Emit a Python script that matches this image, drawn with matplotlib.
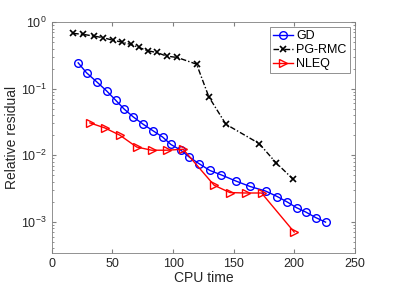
import matplotlib
matplotlib.use("Agg")
import matplotlib.pyplot as plt

plt.rcParams['font.family'] = ['Liberation Sans', 'DejaVu Sans']

# GD
gd_t = [21.7, 28.6, 36.9, 45.1, 52.6, 59.7, 67.1, 75.3, 83.6, 91.3, 98.2, 106.4, 113.3,
        121.3, 130.4, 139.4, 151.8, 163.4, 176.3, 185.9, 194.1, 201.9, 209.6, 217.6, 225.8]
gd_r = [0.244, 0.173, 0.127, 0.0927, 0.0671, 0.0492, 0.0377, 0.0292, 0.0232, 0.0188,
        0.0145, 0.0119, 0.0094, 0.0075, 0.0059, 0.0051, 0.0041, 0.0034, 0.0029, 0.0024,
        0.00199, 0.00163, 0.00140, 0.00116, 0.00099]

# PG-RMC
pg_t = [17.6, 25.8, 34.9, 42.3, 50.1, 57.5, 64.9, 71.8, 79.0, 86.4, 94.6, 103.4,
        119.4, 129.5, 143.6, 171.0, 184.8, 199.1]
pg_r = [0.676, 0.653, 0.615, 0.581, 0.536, 0.500, 0.462, 0.417, 0.370, 0.350, 0.308,
        0.294, 0.233, 0.0753, 0.0292, 0.0150, 0.00776, 0.00436]

# NLEQ
nl_t = [31.4, 43.7, 56.1, 69.9, 82.3, 95.1, 108.3, 133.9, 146.9, 159.8, 173.0, 199.9]
nl_r = [0.0306, 0.0257, 0.0200, 0.0133, 0.0119, 0.0119, 0.0123, 0.00354, 0.00275,
        0.00271, 0.00271, 0.000703]

fig = plt.figure(figsize=(3.93, 2.94), dpi=100)
ax = fig.add_axes([0.132, 0.139, 0.771, 0.786])

ax.semilogy(gd_t, gd_r, '-o', color='blue', mfc='none', ms=5.5, lw=1, mew=1, label='GD')
ax.semilogy(pg_t, pg_r, '-.x', color='black', ms=4, lw=1, mew=1.2, dashes=(4, 1.5, 1, 1.5),
            label='PG-RMC')
ax.semilogy(nl_t, nl_r, '->', color='red', mfc='none', ms=6, lw=1, mew=1, label='NLEQ')

ax.set_xlim(0, 250)
ax.set_ylim(10 ** -3.47, 1)
ax.set_xticks([0, 50, 100, 150, 200, 250])
ax.set_xlabel('CPU time', fontsize=10, labelpad=1)
ax.set_ylabel('Relative residual', fontsize=10, labelpad=2)

for s in ax.spines.values():
    s.set_color('#808080')
    s.set_linewidth(0.6)
ax.tick_params(which='both', direction='in', top=True, right=True, colors='#808080',
               labelcolor='#262626', labelsize=9)
ax.tick_params(which='major', length=3)
ax.tick_params(which='minor', length=1.6)
ax.xaxis.label.set_color('#262626')
ax.yaxis.label.set_color('#262626')

leg = ax.legend(loc='upper right', fontsize=9, fancybox=False, framealpha=1,
                edgecolor='#808080', handlelength=1.6, handletextpad=0.3,
                borderpad=0.25, labelspacing=0.15, borderaxespad=0.4)
leg.get_frame().set_linewidth(0.6)

fig.savefig('out.png', dpi=100)
